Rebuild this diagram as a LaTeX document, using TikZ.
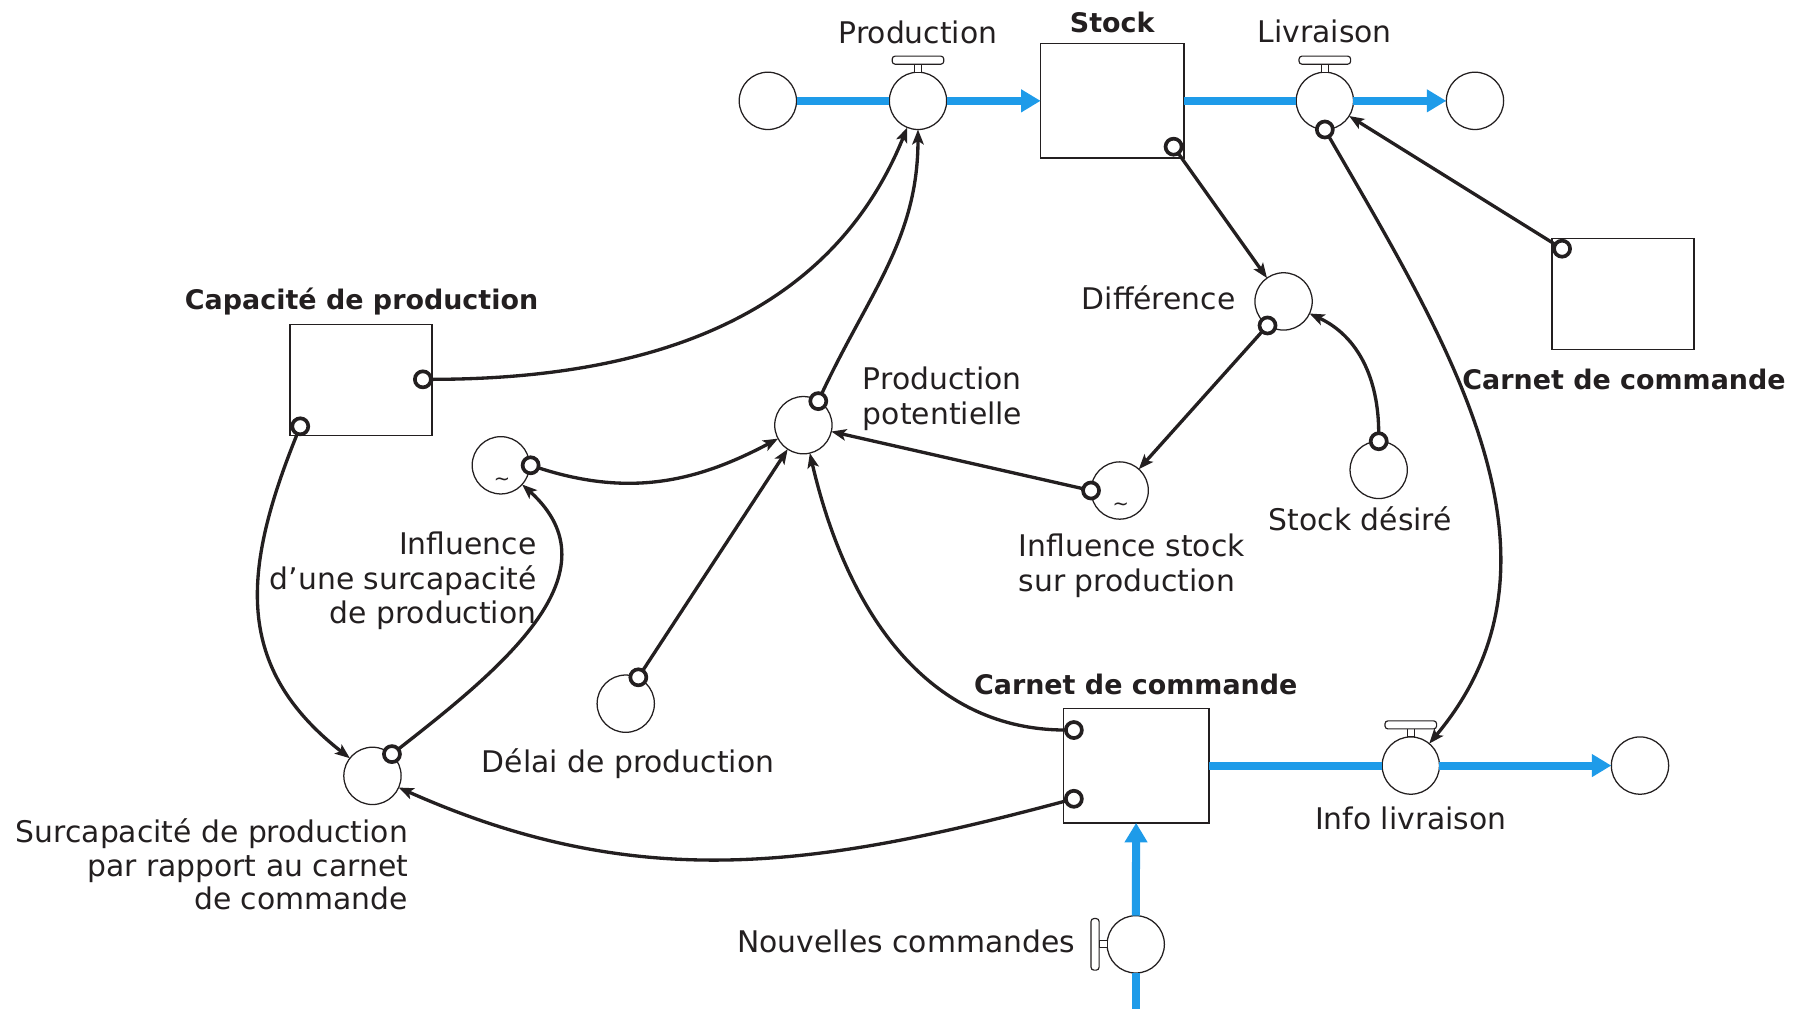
\documentclass[tikz,border=0pt]{standalone}
\usepackage{fontspec}
\setmainfont{DejaVu Sans}
\usetikzlibrary{arrows.meta}
\definecolor{flowblue}{RGB}{30,155,233}
\definecolor{ink}{RGB}{35,31,32}

\begin{document}
\begin{tikzpicture}[x=1pt,y=1pt,
  every node/.style={inner sep=0pt, outer sep=0pt},
  txt/.style={font=\fontsize{26}{30}\selectfont, text=ink},
  btxt/.style={font=\fontsize{23.5}{28}\selectfont\bfseries, text=ink},
  aux/.style={circle, draw=ink, line width=1.1pt, fill=white, minimum size=50pt},
  stockbox/.style={rectangle, draw=ink, line width=1.3pt, fill=white,
                   minimum width=125pt, minimum height=98pt},
  port/.style={circle, draw=ink, line width=3.2pt, fill=white, minimum size=14pt},
  link/.style={draw=ink, line width=2.9pt, -{Stealth[length=13pt,width=10pt,inset=3pt]}},
  flow/.style={draw=flowblue, line width=7pt},
  flowarrow/.style={flow, -{Triangle[length=17pt,width=19pt]}},
  handle/.style={draw=ink, line width=1pt, fill=white, rounded corners=2.5pt},
  stem/.style={draw=ink, line width=1pt, fill=white},
  tilde/.style={font=\fontsize{17}{17}\selectfont, text=ink},
]
\useasboundingbox (0,0) rectangle (1568,-880);

% ---- stocks ----
\node[stockbox, minimum width=125pt, minimum height=100pt] (stock) at (970.5,-88) {};
\node[stockbox, minimum width=124pt, minimum height=97pt] (cap) at (315,-331.5) {};
\node[stockbox, minimum width=127pt, minimum height=100pt] (carB) at (991.5,-668) {};
\node[stockbox, minimum width=124pt, minimum height=97pt] (carT) at (1416,-256.5) {};

% ---- clouds and valves ----
\node[aux] (cl1) at (670,-88) {};
\node[aux] (prodV) at (801,-88) {};
\node[aux] (livV) at (1156,-88) {};
\node[aux] (cl2) at (1287,-88) {};
\node[aux] (infoV) at (1231,-668) {};
\node[aux] (cl4) at (1431,-668) {};
\node[aux] (nvV) at (991,-824) {};
\coordinate (nvSrc) at (991,-886);

% ---- auxiliaries ----
\node[aux] (diff) at (1120,-263) {};
\node[aux] (sdes) at (1203,-410) {};
\node[aux] (infS) at (977,-428) {};
\node[aux] (pp) at (701,-371) {};
\node[aux] (sur) at (325,-677) {};
\node[aux] (infC) at (437,-406) {};
\node[aux] (delai) at (546,-614) {};

% graphical-function marks
\node[tilde] (tS) at ([shift={(1,-14)}]infS.center) {\textasciitilde};
\node[tilde] (tC) at ([shift={(1,-14)}]infC.center) {\textasciitilde};

% ---- valve handles ----
\foreach \v in {prodV,livV,infoV}{
  \draw[stem] ([shift={(-3,0)}]\v.north) rectangle ([shift={(3,7)}]\v.north);
  \draw[handle] ([shift={(-22.5,7)}]\v.north) rectangle ([shift={(22.5,14)}]\v.north);
}
\draw[stem] ([shift={(0,-3)}]nvV.west) rectangle ([shift={(-7,3)}]nvV.west);
\draw[handle] ([shift={(-7,-22.5)}]nvV.west) rectangle ([shift={(-14,22.5)}]nvV.west);

% ---- material flows ----
\draw[flow] (cl1) -- (prodV);
\draw[flowarrow] (prodV) -- (stock);
\draw[flow] (stock) -- (livV);
\draw[flowarrow] (livV) -- (cl2);
\draw[flow] (carB.east |- infoV) -- (infoV);
\draw[flowarrow] (infoV) -- (cl4);
\draw[flow] (nvSrc) -- (nvV);
\draw[flowarrow] (nvV) -- (carB);

% ---- connector origins ----
\node[port] (stockO) at (1024,-128) {};
\node[port] (diffO) at (1106,-284) {};
\node[port] (sdesO) at (1203,-385) {};
\node[port] (infSO) at (952,-428) {};
\node[port] (ppO) at (714,-350) {};
\node[port] (capO1) at (369,-331) {};
\node[port] (capO2) at (262,-372) {};
\node[port] (surO) at (342,-658) {};
\node[port] (infCO) at (463,-406) {};
\node[port] (delaiO) at (557,-591) {};
\node[port] (carBO1) at (937,-637) {};
\node[port] (carBO2) at (937,-697) {};
\node[port] (carTO) at (1363,-217) {};
\node[port] (livO) at (1156,-113) {};

% ---- information links ----
\draw[link] (capO1) to[out=0,in=-112] (prodV);
\draw[link] (ppO) to[out=65,in=-90] (prodV);
\draw[link] (stockO) -- (diff);
\draw[link] (sdesO) to[out=90,in=-25] (diff);
\draw[link] (diffO) -- (infS);
\draw[link] (infSO) -- (pp);
\draw[link] (infCO) to[out=-18,in=-152] (pp);
\draw[link] (delaiO) -- (pp);
\draw[link] (carBO1) to[out=180,in=-77] (pp);
\draw[link] (carBO2) to[out=195,in=-24] (sur);
\draw[link] (capO2) to[out=-112,in=142,looseness=1.15] (sur);
\draw[link] (surO) to[out=38,in=-42,looseness=1.15] (infC);
\draw[link] (livO) to[out=-60,in=50] (infoV);
\draw[link] (carTO) -- (livV);

% ---- labels (multi-line labels are anchored on their last line) ----
\node[txt, anchor=base] (lProd) at (801,-38) {Production};
\node[btxt, anchor=base] (lStock) at (970.5,-28.5) {Stock};
\node[txt, anchor=base] (lLiv) at (1156,-37) {Livraison};
\node[btxt, anchor=base] (lCap) at (315.5,-270) {Capacité de production};
\node[txt, anchor=base east] (lDiff) at (1078,-270) {Différence};
\node[txt, anchor=base west, align=left] (lPP) at (753,-370) {Production\\potentielle};
\node[txt, anchor=base west, align=left] (lInfS) at (889,-516) {Influence stock\\sur production};
\node[txt, anchor=base] (lSdes) at (1187,-462.5) {Stock désiré};
\node[txt, anchor=base east, align=right] (lInfC) at (468,-544) {Influence\\d’une surcapacité\\de production};
\node[txt, anchor=base] (lDel) at (548,-674) {Délai de production};
\node[btxt, anchor=base] (lCarB) at (991,-606) {Carnet de commande};
\node[txt, anchor=base] (lInfo) at (1231,-724) {Info livraison};
\node[txt, anchor=base east, align=right, font=\fontsize{26}{29.5}\selectfont] (lSur) at (356,-794) {Surcapacité de production\\par rapport au carnet\\de commande};
\node[txt, anchor=base east] (lNv) at (938,-831) {Nouvelles commandes};
\node[btxt, anchor=base west] (lCarT) at (1276,-340) {Carnet de commande};
\end{tikzpicture}
\end{document}
